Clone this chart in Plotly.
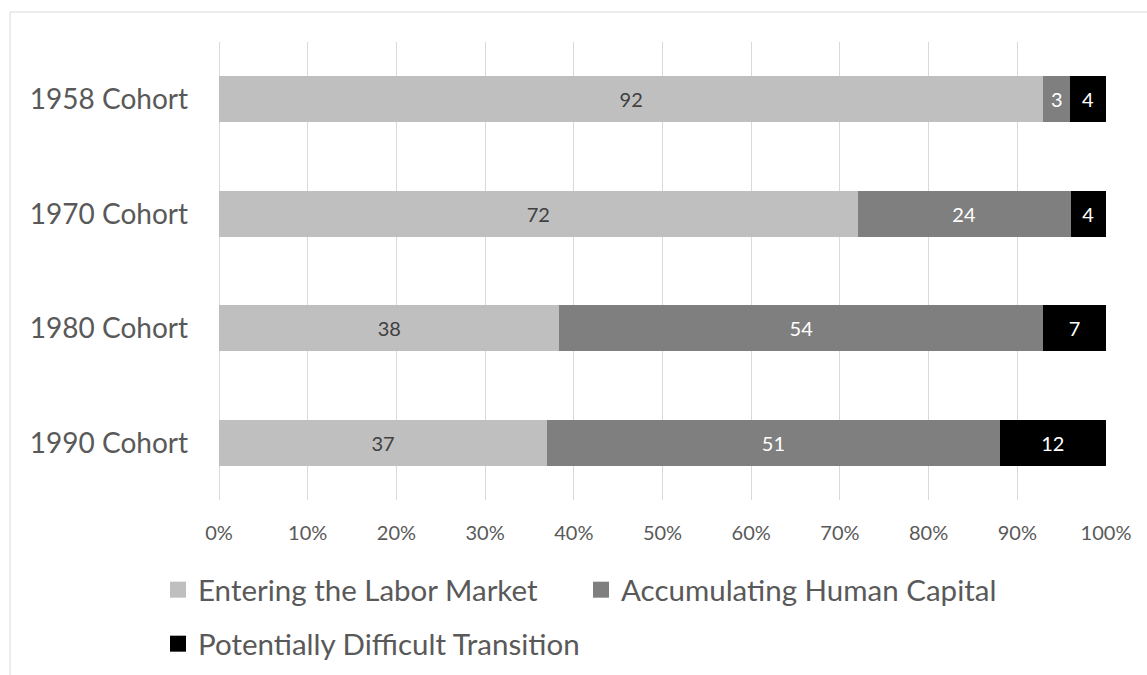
import plotly.graph_objects as go

cohorts = ["1958 Cohort", "1970 Cohort", "1980 Cohort", "1990 Cohort"]
entering = [92, 72, 38, 37]
accumulating = [3, 24, 54, 51]
difficult = [4, 4, 7, 12]
series_names = ["Entering the Labor Market", "Accumulating Human Capital", "Potentially Difficult Transition"]
x_ticks = [0, 10, 20, 30, 40, 50, 60, 70, 80, 90, 100]
x_tick_labels = [f"{v}%" for v in x_ticks]

colors = ["#bfbfbf", "#7f7f7f", "#000000"]
text_colors = ["#404040", "#ffffff", "#ffffff"]
FONT = "Lato"

fig = go.Figure()
for vals, name, col, tcol in zip([entering, accumulating, difficult], series_names, colors, text_colors):
    fig.add_trace(go.Bar(
        y=cohorts, x=vals, orientation="h", name=name,
        marker=dict(color=col, line=dict(width=0)),
        text=vals, texttemplate="%{text}", textposition="inside",
        insidetextanchor="middle", textangle=0,
        textfont=dict(family=FONT, size=20, color=tcol),
        width=0.4, showlegend=False, hoverinfo="skip",
    ))

# legend entries (square markers)
for i, (name, col) in enumerate(zip(series_names, colors)):
    fig.add_trace(go.Scatter(
        x=[None], y=[None], mode="markers", name=name,
        marker=dict(symbol="square", size=18, color=col),
        legend="legend" if i < 2 else "legend2", showlegend=True,
    ))

PL, PR, PT, PB = 219, 41, 42, 175
W, H = 1147, 675
pw = W - PL - PR
ph = H - PT - PB

def px_x(p):
    return (p - PL) / pw

def px_y(p):
    return (H - PB - p) / ph

fig.update_layout(
    width=W, height=H,
    margin=dict(l=PL, r=PR, t=PT, b=PB, pad=0, autoexpand=False),
    paper_bgcolor="white", plot_bgcolor="white",
    barmode="stack", barnorm="percent", bargap=0.6,
    font=dict(family=FONT, color="#595959"),
    xaxis=dict(
        range=[0, 100], tickmode="array", tickvals=x_ticks, ticktext=x_tick_labels,
        showgrid=True, gridcolor="#d9d9d9", gridwidth=1,
        zeroline=True, zerolinecolor="#d9d9d9", zerolinewidth=1,
        showline=False, ticks="",
        tickfont=dict(family=FONT, size=20, color="#595959"),
        ticklabelstandoff=19, fixedrange=True, automargin=False,
    ),
    yaxis=dict(
        categoryorder="array", categoryarray=cohorts, autorange="reversed",
        showgrid=False, zeroline=False, showline=False, ticks="",
        tickfont=dict(family=FONT, size=28, color="#595959"),
        ticklabelstandoff=30, fixedrange=True, automargin=False,
    ),
    legend=dict(
        orientation="h", x=px_x(158), xanchor="left", y=px_y(590), yanchor="middle",
        font=dict(family=FONT, size=29.5, color="#595959"),
        entrywidth=378, entrywidthmode="pixels", itemsizing="trace",
        bgcolor="rgba(0,0,0,0)", traceorder="normal",
    ),
    legend2=dict(
        orientation="h", x=px_x(158), xanchor="left", y=px_y(644), yanchor="middle",
        font=dict(family=FONT, size=29.5, color="#595959"),
        itemsizing="trace", bgcolor="rgba(0,0,0,0)",
    ),
    shapes=[dict(
        type="rect", xref="paper", yref="paper",
        x0=px_x(10), x1=px_x(1160), y0=px_y(690), y1=px_y(12),
        line=dict(color="#d9d9d9", width=1), fillcolor="rgba(0,0,0,0)", layer="below",
    )],
)

fig.write_html("out.html")
